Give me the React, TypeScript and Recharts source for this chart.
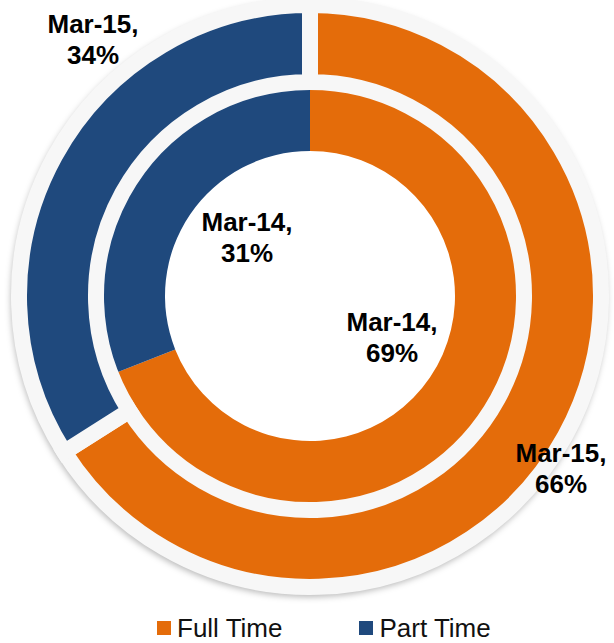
import React from 'react';
import { PieChart, Pie, Cell, Legend } from 'recharts';

// ---- data ----
const SERIES = ['Full Time', 'Part Time'];
const PERIODS = ['Mar-14', 'Mar-15'];
const MAR14 = [69, 31];
const MAR15 = [66, 34];

// ---- styles ----
const COLORS = ['#E46C0A', '#1F497D'];
const HALO = '#F7F7F7';
const FONT = '"Liberation Sans", Arial, sans-serif';

const inner = SERIES.map((name, i) => ({ name, value: MAR14[i], period: PERIODS[0] }));
const outer = SERIES.map((name, i) => ({ name, value: MAR15[i], period: PERIODS[1] }));
const halo = [{ name: 'bg', value: 1 }];

// label offsets from the chart centre (text placement, not data)
const INNER_LABEL_OFFSETS = [
  [82, 35],
  [-63, -65],
];
const OUTER_LABEL_OFFSETS = [
  [251, 166],
  [-217, -263],
];

const makeLabel = (offsets: number[][]) => (props: any) => {
  const { cx, cy, index, payload, value } = props;
  const [dx, dy] = offsets[index];
  const x = cx + dx;
  const y = cy + dy;
  const period = payload?.period ?? (payload?.payload?.period);
  return (
    <text
      x={x}
      y={y}
      textAnchor="middle"
      fontFamily={FONT}
      fontWeight="bold"
      fontSize={26}
      fill="#000"
    >
      <tspan x={x} dy={0}>{`${period},`}</tspan>
      <tspan x={x} dy={31}>{`${value}%`}</tspan>
    </text>
  );
};

const LegendContent = () => (
  <div
    style={{
      display: 'flex',
      alignItems: 'center',
      paddingLeft: 157,
      height: 30,
      fontFamily: FONT,
      fontSize: 26,
      lineHeight: '30px',
      color: '#111',
    }}
  >
    {SERIES.map((s, i) => (
      <div key={s} style={{ display: 'flex', alignItems: 'center', marginRight: 77 }}>
        <span style={{ width: 14, height: 14, background: COLORS[i], marginRight: 6, display: 'inline-block' }} />
        <span style={{ whiteSpace: 'nowrap' }}>{s}</span>
      </div>
    ))}
  </div>
);

export default function App() {
  return (
    <div style={{ position: 'absolute', left: 0, top: 0, width: 614, height: 643, background: '#fff', overflow: 'hidden' }}>
      <PieChart width={614} height={643} margin={{ top: 0, right: 0, bottom: 0, left: 0 }}>
        <Pie
          data={halo}
          dataKey="value"
          cx={310}
          cy={296}
          innerRadius={200}
          outerRadius={298}
          startAngle={90}
          endAngle={-270}
          stroke="none"
          isAnimationActive={false}
          legendType="none"
        >
          <Cell fill={HALO} style={{ filter: 'drop-shadow(-1px 3px 3px rgba(0,0,0,0.28))' }} />
        </Pie>
        <Pie
          data={inner}
          dataKey="value"
          cx={310}
          cy={296}
          innerRadius={145}
          outerRadius={210}
          startAngle={90}
          endAngle={-270}
          stroke="none"
          isAnimationActive={false}
          labelLine={false}
          label={makeLabel(INNER_LABEL_OFFSETS)}
        >
          {inner.map((d, i) => (
            <Cell key={d.name} fill={COLORS[i]} />
          ))}
        </Pie>
        <Pie
          data={outer}
          dataKey="value"
          cx={310}
          cy={296}
          innerRadius={214}
          outerRadius={291}
          startAngle={90}
          endAngle={-270}
          stroke={HALO}
          strokeWidth={16}
          isAnimationActive={false}
          labelLine={false}
          label={makeLabel(OUTER_LABEL_OFFSETS)}
        >
          {outer.map((d, i) => (
            <Cell key={d.name} fill={COLORS[i]} stroke={HALO} strokeWidth={16} />
          ))}
        </Pie>
        <Legend
          content={<LegendContent />}
          wrapperStyle={{ position: 'absolute', left: 0, top: 613, width: 614, height: 30 }}
        />
      </PieChart>
    </div>
  );
}
